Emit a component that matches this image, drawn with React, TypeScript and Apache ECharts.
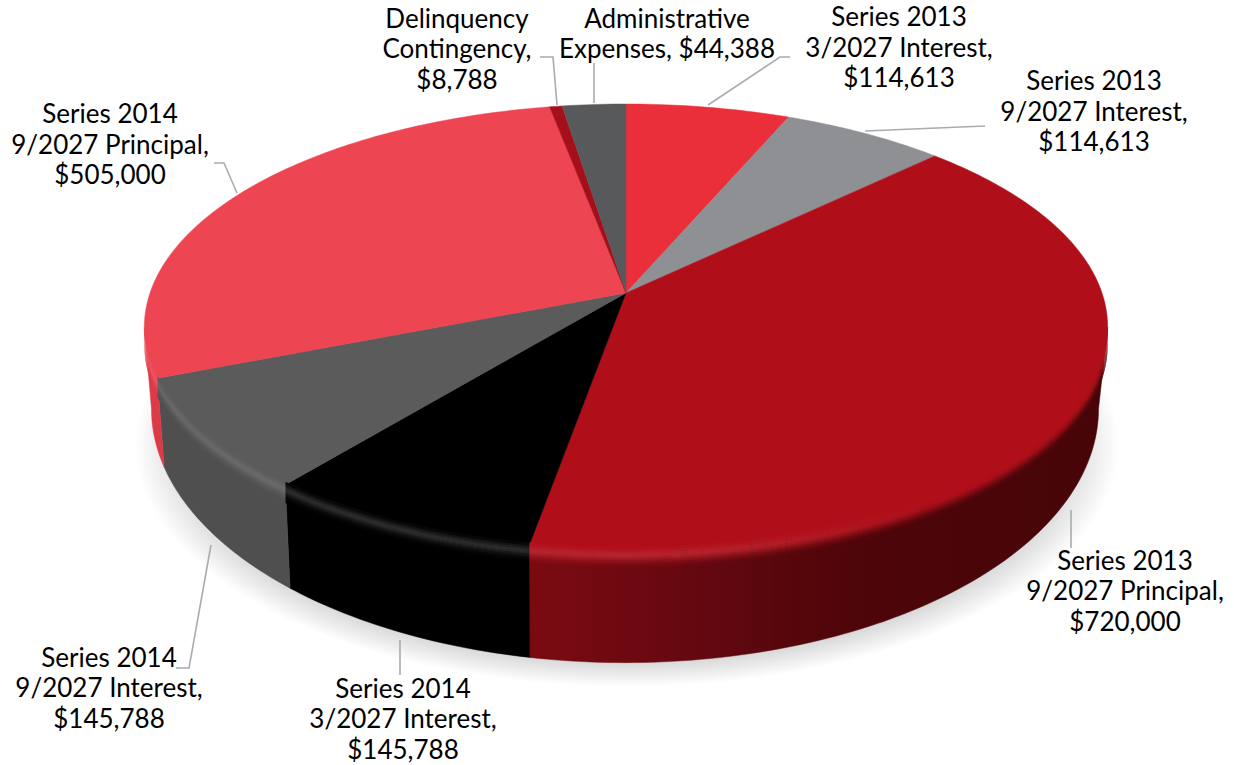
import React, { useEffect, useRef } from "react";
import * as echarts from "echarts";

// Debt-service slices, clockwise from twelve o'clock.
const sliceNames = [
  "Series 2013 3/2027 Interest",
  "Series 2013 9/2027 Interest",
  "Series 2013 9/2027 Principal",
  "Series 2014 3/2027 Interest",
  "Series 2014 9/2027 Interest",
  "Series 2014 9/2027 Principal",
  "Delinquency Contingency",
  "Administrative Expenses",
];
const sliceValues = [114613, 114613, 720000, 145788, 145788, 505000, 8788, 44388];
const labelHeads = [
  "Series 2013\n3/2027 Interest,\n",
  "Series 2013\n9/2027 Interest,\n",
  "Series 2013\n9/2027 Principal,\n",
  "Series 2014\n3/2027 Interest,\n",
  "Series 2014\n9/2027 Interest,\n",
  "Series 2014\n9/2027 Principal,\n",
  "Delinquency\nContingency,\n",
  "Administrative\nExpenses, ",
];

const topColors = ["#ea2f3b", "#8f9094", "#b00f1a", "#000000", "#5b5b5b", "#ed4552", "#a50e1b", "#58595b"];
const wallStops: [number, string][][] = [
  [[0, "#b02029"]],
  [[0, "#66676a"]],
  [[530, "#7c0a12"], [700, "#640810"], [850, "#4e0509"], [1100, "#470508"]],
  [[0, "#000000"]],
  [[0, "#4f4f4f"]],
  [[0, "#dc3a46"]],
  [[0, "#700a12"]],
  [[0, "#404143"]],
];
const glintStrength = [0.1, 0.1, 0.09, 0.18, 0.09, 0.1, 0.1, 0.1];

// Label centres and leader paths, same order as the slices.
const labelCentres = [
  [899, 46.5], [1094, 110.5], [1125, 590], [403, 718], [109, 687], [110, 143.5], [457, 48], [667, 33],
];
const leaders = [
  [[708, 105], [780, 57], [790, 57]],
  [[865, 131], [985, 126]],
  [[1071, 510], [1071, 548]],
  [[400, 640], [400, 675]],
  [[211, 545], [189, 668], [176, 668]],
  [[237, 193], [224, 163], [214, 163]],
  [[540, 57], [553, 57], [557, 105]],
  [[594, 63], [594, 103]],
];

// Perspective disc: the hub sits above the centre of the projected ellipse.
const TILT = 0.1525;
const TOP = { cx: 626, cy: 293, a: 476, b: 217.8 };
const BASE = { cx: 625, cy: 370, a: 468, b: 248 };
const SIDE_FROM = 98.8;
const SIDE_TO = 261.2;

const total = sliceValues.reduce((s, v) => s + v, 0);
const startAngle = (i: number) =>
  (sliceValues.slice(0, i).reduce((s, v) => s + v, 0) / total) * 360;
const endAngle = (i: number) => startAngle(i + 1);

function project(disc: typeof TOP, deg: number, dy = 0): number[] {
  const t = (deg * Math.PI) / 180;
  const x = Math.sin(t);
  const y = -Math.cos(t);
  const d = 1 - TILT * y;
  return [disc.cx + (disc.a * x) / d, disc.cy + (disc.b * y) / d + dy];
}

function arc(disc: typeof TOP, from: number, to: number, dy = 0): number[][] {
  const n = Math.max(2, Math.ceil(Math.abs(to - from)));
  const pts: number[][] = [];
  for (let i = 0; i <= n; i++) pts.push(project(disc, from + ((to - from) * i) / n, dy));
  return pts;
}

const rgb = (hex: string) => [1, 3, 5].map((p) => parseInt(hex.slice(p, p + 2), 16));
const mix = (a: number[], b: number[], t: number) => a.map((v, i) => v + (b[i] - v) * t);
const css = (c: number[]) => `rgb(${c.map((v) => Math.round(v)).join(",")})`;

function wallAt(i: number, x: number): number[] {
  const stops = wallStops[i];
  if (x <= stops[0][0] || stops.length === 1) return rgb(stops[0][1]);
  for (let k = 1; k < stops.length; k++) {
    if (x <= stops[k][0]) {
      return mix(rgb(stops[k - 1][1]), rgb(stops[k][1]), (x - stops[k - 1][0]) / (stops[k][0] - stops[k - 1][0]));
    }
  }
  return rgb(stops[stops.length - 1][1]);
}

const G_LEFT = 140;
const G_RIGHT = 1110;
const glintAt = (x: number) => (x < 700 ? 1 : x > 930 ? 0 : (930 - x) / 230);

// Horizontal fill that blends the slice top into its wall, with an optional glint.
function rimFill(i: number, wallShare: number, glint: number) {
  const colorStops = [];
  for (let k = 0; k <= 16; k++) {
    const x = G_LEFT + ((G_RIGHT - G_LEFT) * k) / 16;
    const base = mix(rgb(topColors[i]), wallAt(i, x), wallShare);
    const lit = mix(base, [255, 255, 255], glint * glintStrength[i] * glintAt(x));
    colorStops.push({ offset: k / 16, color: css(lit) });
  }
  return new echarts.graphic.LinearGradient(G_LEFT, 0, G_RIGHT, 0, colorStops, true);
}

// Vertical offset from the slice's rim, wall share and glint, top to bottom.
const rimProfile = [
  [-3, 0, 0], [0, 0, 0.3], [2, 0, 0.6], [4, 0, 0.9], [6, 0.08, 1], [8, 0.22, 0.7],
  [10, 0.42, 0.4], [12, 0.62, 0.2], [14, 0.8, 0.08], [16, 0.92, 0], [18, 1, 0],
];

const sideRange = (i: number) => {
  const from = Math.max(startAngle(i), SIDE_FROM);
  const to = Math.min(endAngle(i), SIDE_TO);
  return to > from ? [from, to] : null;
};

const sliceData = sliceNames.map((name, i) => ({ name, value: sliceValues[i] }));

const money = (v: number) => "$" + v.toLocaleString("en-US");

function buildOption() {
  const walls = {
    type: "custom",
    coordinateSystem: "none",
    silent: true,
    z: 2,
    data: sliceData,
    renderItem: (params: any) => {
      const i = params.dataIndex;
      const range = sideRange(i);
      if (!range) return { type: "group", children: [] };
      const points = [...arc(TOP, range[0], range[1]), ...arc(BASE, range[1], range[0])];
      const fill = rimFill(i, 1, 0);
      return { type: "polygon", shape: { points }, style: { fill, stroke: fill, lineWidth: 0.5 } };
    },
  };
  const tops = {
    type: "custom",
    coordinateSystem: "none",
    silent: true,
    z: 3,
    data: sliceData,
    renderItem: (params: any) => {
      const i = params.dataIndex;
      const points = [[TOP.cx, TOP.cy], ...arc(TOP, startAngle(i), endAngle(i))];
      return {
        type: "polygon",
        shape: { points },
        style: { fill: topColors[i], stroke: topColors[i], lineWidth: 0.5 },
      };
    },
  };
  const rims = {
    type: "custom",
    coordinateSystem: "none",
    silent: true,
    z: 4,
    data: sliceData,
    renderItem: (params: any) => {
      const i = params.dataIndex;
      const range = sideRange(i);
      if (!range) return { type: "group", children: [] };
      const children = [];
      for (let k = 0; k < rimProfile.length - 1; k++) {
        const [d0, w0, g0] = rimProfile[k];
        const [d1, w1, g1] = rimProfile[k + 1];
        const points = [...arc(TOP, range[0], range[1], d0), ...arc(TOP, range[1], range[0], d1 + 0.4)];
        children.push({
          type: "polygon",
          shape: { points },
          style: { fill: rimFill(i, (w0 + w1) / 2, (g0 + g1) / 2) },
        });
      }
      return { type: "group", children };
    },
  };

  const graphics: any[] = [
    {
      type: "ellipse",
      z: 0,
      silent: true,
      shape: { cx: 627, cy: 445, rx: 492, ry: 242 },
      style: {
        fill: new echarts.graphic.RadialGradient(0.5, 0.5, 0.5, [
          { offset: 0, color: "#d2d2d2" },
          { offset: 0.88, color: "#d2d2d2" },
          { offset: 0.94, color: "#e8e8e8" },
          { offset: 1, color: "#ffffff" },
        ]),
      },
    },
  ];
  leaders.forEach((points) => {
    graphics.push({
      type: "polyline",
      z: 9,
      silent: true,
      shape: { points },
      style: { stroke: "#a9abae", lineWidth: 1.6, fill: "none" },
    });
  });
  labelHeads.forEach((head, i) => {
    graphics.push({
      type: "text",
      z: 10,
      silent: true,
      x: labelCentres[i][0],
      y: labelCentres[i][1],
      style: {
        text: head + money(sliceValues[i]),
        fontFamily: "Lato",
        fontSize: 26,
        lineHeight: 30.5,
        fill: "#000000",
        align: "center",
        verticalAlign: "middle",
      },
    });
  });

  return { animation: false, backgroundColor: "#ffffff", series: [walls, tops, rims], graphic: graphics };
}

export default function App() {
  const ref = useRef<HTMLDivElement>(null);
  useEffect(() => {
    const chart = echarts.init(ref.current!, undefined, { renderer: "svg" });
    chart.setOption(buildOption() as any);
    return () => chart.dispose();
  }, []);
  return <div ref={ref} style={{ position: "fixed", left: 0, top: 0, width: 1234, height: 765 }} />;
}
